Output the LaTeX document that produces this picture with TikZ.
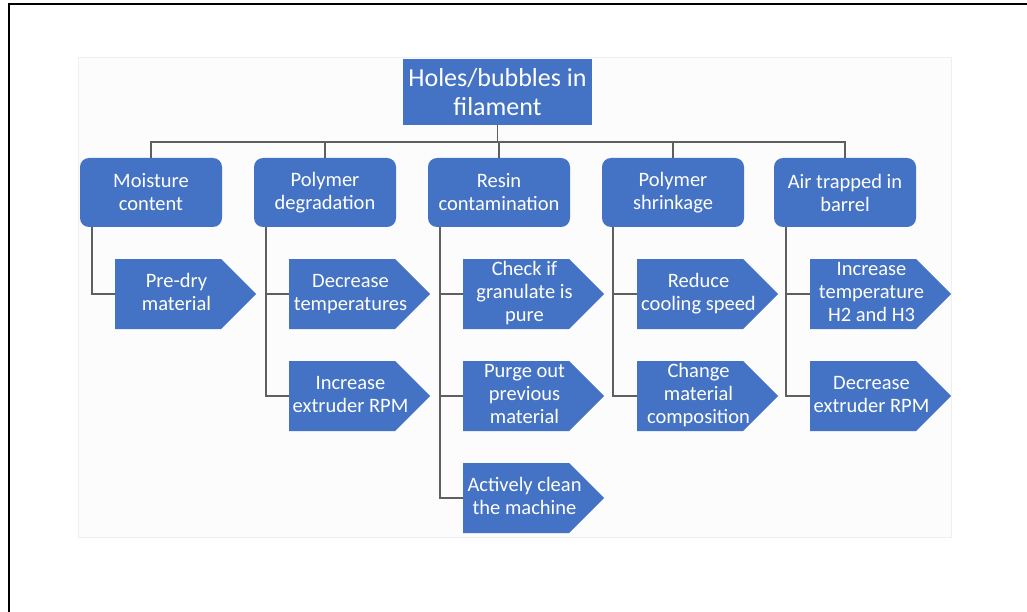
\documentclass[tikz,border=0pt]{standalone}
\usepackage{fontspec}
\setmainfont{Carlito}
\usetikzlibrary{calc}
\definecolor{boxblue}{HTML}{4472C4}
\definecolor{linkgray}{HTML}{5F5F5F}
\definecolor{panelbg}{HTML}{FCFCFC}
\definecolor{paneledge}{HTML}{EFEFEF}
% remedy text: centred lines, set left of the pointer
\newcommand\actlines[1]{\begin{tabular}{@{}c@{}}#1\end{tabular}\rule{18pt}{0pt}}
\begin{document}
\begin{tikzpicture}[x=1pt,y=-1pt,
  titlebox/.style={fill=boxblue, text=white, minimum width=189pt, minimum height=66pt,
    inner sep=0pt, align=center, font=\fontsize{26}{29}\selectfont},
  causebox/.style={fill=boxblue, text=white, rounded corners=9pt, minimum width=142pt,
    minimum height=69pt, inner sep=0pt, align=center, font=\fontsize{20.5}{23}\selectfont},
  actbox/.style={minimum width=141pt, minimum height=70pt, inner sep=0pt, text=white,
    font=\fontsize{20.5}{23}\selectfont,
    path picture={\fill[boxblue] (path picture bounding box.south west)
      -- ([xshift=-35pt]path picture bounding box.south east)
      -- (path picture bounding box.east)
      -- ([xshift=-35pt]path picture bounding box.north east)
      -- (path picture bounding box.north west) -- cycle;}},
  link/.style={draw=linkgray, line width=1.8pt}
]
\useasboundingbox (0,0) rectangle (1027,612);

% page frame and pasted panel
\draw[fill=panelbg, draw=paneledge, line width=0.8pt] (78,57) rectangle (951,537);
\draw[line width=2pt] (1027,4.5) -- (8.5,4.5) -- (8.5,612);

% problem and causes
\node[titlebox] (top) at (497.5,92) {Holes/bubbles in\\filament};
\node[causebox] (c1) at (151,192.5) {Moisture\\content};
\node[causebox] (c2) at (325,192.5) {Polymer\\degradation};
\node[causebox] (c3) at (499,192.5) {Resin\\contamination};
\node[causebox] (c4) at (673,192.5) {Polymer\\shrinkage};
\node[causebox] (c5) at (845,192.5) {Air trapped in\\barrel};

% remedies
\node[actbox] (a11) at (185.5,294) {\actlines{Pre-dry\\material}};
\node[actbox] (a21) at (359.5,294) {\actlines{Decrease\\temperatures}};
\node[actbox] (a22) at (359.5,396) {\actlines{Increase\\extruder RPM}};
\node[actbox] (a31) at (533.5,294) {\actlines{Check if\\granulate is\\pure}};
\node[actbox] (a32) at (533.5,396) {\actlines{Purge out\\previous\\material}};
\node[actbox] (a33) at (533.5,498) {\actlines{Actively clean\\the machine}};
\node[actbox] (a41) at (707.5,294) {\actlines{Reduce\\cooling speed}};
\node[actbox] (a42) at (707.5,396) {\actlines{Change\\material\\composition}};
\node[actbox] (a51) at (880.5,294) {\actlines{Increase\\temperature\\H2 and H3}};
\node[actbox] (a52) at (880.5,396) {\actlines{Decrease\\extruder RPM}};

% tree connectors
\coordinate (bus) at (497.5,142);
\draw[link] (top.south) -- (bus);
\foreach \c in {c1,c2,c3,c4,c5}
  \draw[link] (bus) -| (\c.north);

\draw[link] ([xshift=12.5pt]c1.south west) |- (a11.west);
\draw[link] ([xshift=12.5pt]c2.south west) |- (a21.west);
\draw[link] ([xshift=12.5pt]c2.south west) |- (a22.west);
\draw[link] ([xshift=12.5pt]c3.south west) |- (a31.west);
\draw[link] ([xshift=12.5pt]c3.south west) |- (a32.west);
\draw[link] ([xshift=12.5pt]c3.south west) |- (a33.west);
\draw[link] ([xshift=11pt]c4.south west) |- (a41.west);
\draw[link] ([xshift=11pt]c4.south west) |- (a42.west);
\draw[link] ([xshift=12.5pt]c5.south west) |- (a51.west);
\draw[link] ([xshift=12.5pt]c5.south west) |- (a52.west);
\end{tikzpicture}
\end{document}
